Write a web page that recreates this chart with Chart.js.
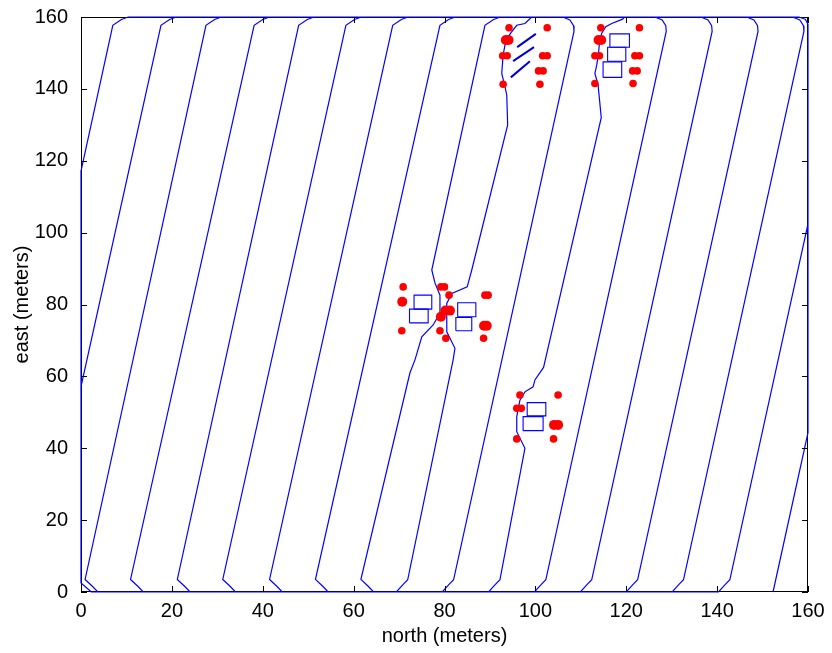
<!DOCTYPE html>
<html>
<head>
<meta charset="utf-8">
<script src="https://cdn.jsdelivr.net/npm/chart.js@4.4.1/dist/chart.umd.min.js"></script>
<style>
  html, body { margin: 0; padding: 0; background: #ffffff; }
  canvas { display: block; }
</style>
</head>
<body>
<canvas id="c" width="832" height="653"></canvas>
<script>
// Coverage route of the survey vehicle over a 160 m x 160 m field (north on x, east on y).

// Each sweep lane: north coordinate where it meets east = 0 and east = 160 (metres).
const laneBottom = [-20.2, -10.0, 0.3, 10.3, 20.6, 30.6, 40.9, 51.0, 61.0,
                    71.3, 81.4, 91.6, 101.7, 111.8, 121.9, 132.0, 142.2, 152.3];
const laneTop    = [7.4, 18.0, 27.9, 38.5, 48.3, 58.7, 69.0, 79.4, 89.3,
                    99.1, 109.2, 119.4, 129.5, 139.6, 149.7, 159.8, 170.0, 180.1];
// Order in which lanes are flown; even steps head east-up, odd steps head back down.
const sweepOrder = [0, 9, 1, 10, 2, 11, 3, 12, 4, 13, 5, 14, 6, 15, 7, 16, 8, 17];

// Turn shapes at the field edges: [north offset from lane end, east].
const turnBottomIntoUp   = [[3.4, 0], [2.2, 1.6], [0.6, 3.5]];
const turnTopFromUp      = [[-0.4, 157.7], [1.5, 159.3], [3.0, 160]];
const turnTopIntoDown    = [[-3.2, 160], [-1.6, 159.2], [-0.8, 157.6], [-0.7, 156.0]];
const turnBottomFromDown = [[0.6, 3.4], [-0.5, 2.0], [-1.9, 0]];
// Corner entries where a lane is cut by the west / east boundary: [north, east].
const leftEdgeEntry  = [[2.3, 0], [0, 2.5]];
const rightEdgeEntry = [[158.0, 160], [159.4, 159.4], [160, 158.0]];

// Detour waypoints around obstacle groups, listed along the direction of travel: [north, east].
const detourLane8 = [[72.4, 61.0], [73.5, 64.6], [75.0, 71.0], [77.5, 74.3], [79.0, 77.6],
                     [79.0, 82.6], [77.9, 86.0], [77.2, 89.6]];
const detourLane9 = [[99.2, 160], [98.8, 159.5], [97.7, 158.2], [95.9, 157.7], [94.6, 155.6],
                     [93.5, 153.5], [92.9, 149.4], [92.6, 144.3], [93.3, 140.6], [93.7, 138.3],
                     [93.9, 130.0],
                     [86.0, 89.6], [85.0, 84.9], [81.6, 83.1], [80.5, 80.3], [80.5, 72.4],
                     [82.3, 67.8], [81.9, 64.6]];
const detourLane11 = [[119.6, 160], [119.2, 159.4], [116.8, 158.2], [115.5, 157.3], [114.6, 155.5],
                      [114.1, 152.7], [113.9, 149.9], [113.5, 146.6], [113.1, 144.3], [113.8, 141.1],
                      [114.5, 132.0],
                      [101.8, 62.5], [99.9, 59.0], [99.5, 57.1], [97.7, 55.7], [96.6, 53.4],
                      [95.9, 48.8], [95.9, 44.6], [97.7, 40.0]];

// Detected obstacles (red markers): [north, east].
const obstaclesSmall = [
  [70.9, 84.9], [70.6, 72.7], [79.2, 84.9], [80.0, 84.9], [81.0, 82.6], [79.0, 72.7], [80.3, 70.6],
  [88.9, 82.6], [89.6, 82.6], [88.6, 70.6],
  [96.6, 54.8], [95.9, 51.1], [96.9, 51.1], [95.9, 42.6], [105.0, 54.8], [104.0, 42.6],
  [94.2, 157.0], [92.8, 149.2], [93.8, 149.2], [92.9, 141.3], [102.6, 157.0], [101.6, 149.2],
  [102.6, 149.2], [100.7, 145.0], [101.7, 145.0], [101.0, 141.3],
  [114.4, 157.0], [113.1, 149.2], [114.1, 149.2], [113.1, 141.5], [122.9, 157.0], [121.9, 149.2],
  [122.9, 149.2], [121.4, 145.0], [122.4, 145.0], [121.5, 141.5]
];
const obstaclesLarge = [
  [70.7, 80.8], [80.2, 78.3], [81.2, 78.3], [79.2, 76.6], [88.7, 74.1], [89.3, 74.1],
  [104.1, 46.5], [105.0, 46.5],
  [93.5, 153.6], [94.1, 153.6],
  [113.9, 153.6], [114.5, 153.6]
];

// Structures: [north min, north max, east min, east max].
const structures = [
  [73.3, 77.2, 78.7, 82.6], [72.3, 76.4, 74.9, 78.7], [82.9, 86.9, 76.6, 80.5], [82.5, 86.0, 72.7, 76.4],
  [98.2, 102.3, 49.0, 52.7], [97.3, 101.7, 44.9, 48.8],
  [116.4, 120.7, 151.6, 155.3], [115.9, 119.9, 147.7, 151.6], [114.9, 119.0, 143.2, 147.5]
];
// Narrow strips seen edge-on: [north start, east start, north end, east end].
const strips = [
  [96.0, 151.6, 100.1, 155.3],
  [95.1, 147.7, 99.7, 151.6],
  [94.6, 143.2, 98.8, 147.7]
];

const tickValues = [0, 20, 40, 60, 80, 100, 120, 140, 160];

// ---- assemble the flown route from the lanes, turns and detours ----
const detours = { 8: detourLane8, 9: detourLane9, 11: detourLane11 };
const route = [];
const add = (x, y) => route.push({ x: x, y: y });

sweepOrder.forEach((lane, step) => {
  const goingUp = step % 2 === 0;
  const det = detours[lane] || [];
  if (goingUp) {
    if (laneBottom[lane] < 0) {
      leftEdgeEntry.forEach(p => add(p[0], p[1]));
      add(0, 160 * (0 - laneBottom[lane]) / (laneTop[lane] - laneBottom[lane]));
    } else {
      turnBottomIntoUp.forEach(p => add(laneBottom[lane] + p[0], p[1]));
    }
    det.forEach(p => add(p[0], p[1]));
    turnTopFromUp.forEach(p => add(laneTop[lane] + p[0], p[1]));
  } else {
    const customTop = det.length && det[0][1] >= 160;
    if (!customTop) {
      if (laneTop[lane] > 160) {
        rightEdgeEntry.forEach(p => add(p[0], p[1]));
        add(160, 160 * (160 - laneBottom[lane]) / (laneTop[lane] - laneBottom[lane]));
      } else {
        turnTopIntoDown.forEach(p => add(laneTop[lane] + p[0], p[1]));
      }
    }
    det.forEach(p => add(p[0], p[1]));
    if (step === sweepOrder.length - 1) {
      add(laneBottom[lane], 0);
    } else {
      turnBottomFromDown.forEach(p => add(laneBottom[lane] + p[0], p[1]));
    }
  }
});

const FONT = { family: "'Liberation Sans', Arial, Helvetica, sans-serif", size: 20 };

const datasets = [];
datasets.push({
  data: obstaclesSmall.map(p => ({ x: p[0], y: p[1] })),
  pointRadius: 3.8, pointBackgroundColor: '#ff0000', pointBorderWidth: 0,
  showLine: false, order: 0
});
datasets.push({
  data: obstaclesLarge.map(p => ({ x: p[0], y: p[1] })),
  pointRadius: 5.0, pointBackgroundColor: '#ff0000', pointBorderWidth: 0,
  showLine: false, order: 0
});
strips.forEach(s => datasets.push({
  data: [{ x: s[0], y: s[1] }, { x: s[2], y: s[3] }],
  showLine: true, borderColor: '#0000d0', borderWidth: 2, pointRadius: 0, order: 1
}));
structures.forEach(r => datasets.push({
  data: [{ x: r[0], y: r[2] }, { x: r[1], y: r[2] }, { x: r[1], y: r[3] }, { x: r[0], y: r[3] }, { x: r[0], y: r[2] }],
  showLine: true, borderColor: '#0000ff', borderWidth: 1.1, pointRadius: 0, order: 1
}));
datasets.push({
  data: route, showLine: true, borderColor: '#0000ff', borderWidth: 1.2,
  pointRadius: 0, tension: 0, clip: false, order: 2
});

const framePlugin = {
  id: 'frame',
  beforeDatasetsDraw(chart) {
    const { ctx, chartArea: a } = chart;
    ctx.save();
    ctx.strokeStyle = '#000000';
    ctx.lineWidth = 1;
    ctx.strokeRect(Math.round(a.left) + 0.5, Math.round(a.top) + 0.5,
                   Math.round(a.right - a.left) - 1, Math.round(a.bottom - a.top) - 1);
    ctx.restore();
  },
  afterDatasetsDraw(chart) {
    const { ctx, chartArea: a, scales } = chart;
    const len = 6;
    ctx.save();
    ctx.strokeStyle = '#000000';
    ctx.lineWidth = 1;
    ctx.beginPath();
    tickValues.forEach(v => {
      const x = Math.round(scales.x.getPixelForValue(v)) + 0.5;
      ctx.moveTo(x, a.bottom); ctx.lineTo(x, a.bottom - len);
      ctx.moveTo(x, a.top); ctx.lineTo(x, a.top + len);
      const y = Math.round(scales.y.getPixelForValue(v)) + 0.5;
      ctx.moveTo(a.left, y); ctx.lineTo(a.left + len, y);
      ctx.moveTo(a.right, y); ctx.lineTo(a.right - len, y);
    });
    ctx.stroke();
    ctx.restore();
  }
};

// Fixed plot box: left 81, top 17, right 808, bottom 592.
const zeroPad = s => { s.paddingTop = 0; s.paddingBottom = 0; s.paddingLeft = 0; s.paddingRight = 0; };

new Chart(document.getElementById('c'), {
  type: 'scatter',
  data: { datasets: datasets },
  options: {
    responsive: false,
    animation: false,
    events: [],
    layout: { padding: { left: 0, right: 24, top: 17, bottom: 0 } },
    plugins: { legend: { display: false }, tooltip: { enabled: false } },
    scales: {
      x: {
        type: 'linear', min: 0, max: 160,
        afterBuildTicks: s => { s.ticks = tickValues.map(v => ({ value: v })); },
        afterFit: s => { s.height = 61; zeroPad(s); },
        ticks: { font: FONT, color: '#000000', padding: 7, maxRotation: 0, autoSkip: false },
        grid: { display: false, drawTicks: false },
        border: { display: false },
        title: { display: true, text: 'north (meters)', font: FONT, color: '#000000', padding: { top: 0, bottom: 5 } }
      },
      y: {
        type: 'linear', min: 0, max: 160,
        afterBuildTicks: s => { s.ticks = tickValues.map(v => ({ value: v })); },
        afterFit: s => { s.width = 81; zeroPad(s); },
        ticks: { font: FONT, color: '#000000', padding: 13, autoSkip: false },
        grid: { display: false, drawTicks: false },
        border: { display: false },
        title: { display: true, text: 'east (meters)', font: FONT, color: '#000000', padding: { top: 10, bottom: 0 } }
      }
    }
  },
  plugins: [framePlugin]
});
</script>
</body>
</html>
